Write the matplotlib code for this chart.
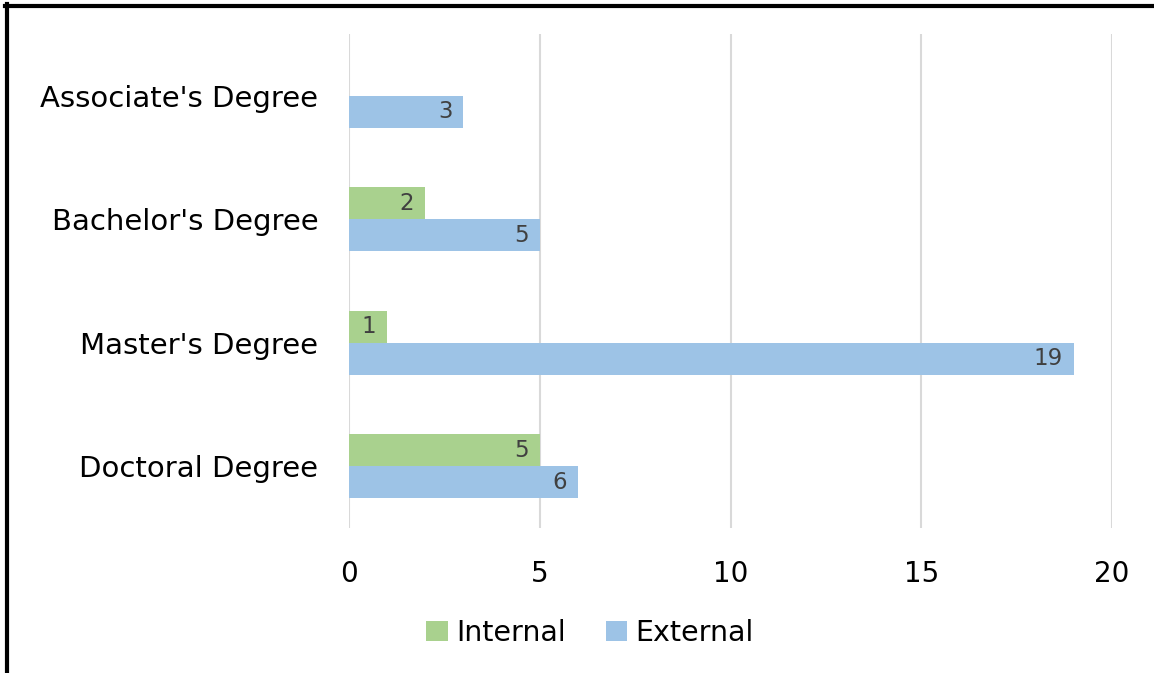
import numpy as np
from matplotlib import pyplot as plt
from matplotlib.lines import Line2D

# data
degrees = ["Associate's Degree", "Bachelor's Degree", "Master's Degree", "Doctoral Degree"]
internal = [0, 2, 1, 5]
external = [3, 5, 19, 6]
x_ticks = [0, 5, 10, 15, 20]

green = '#A9D18E'
blue = '#9DC3E6'
label_color = '#404040'

plt.rcParams['font.family'] = ['DejaVu Sans']

fig = plt.figure(figsize=(11.54, 6.73), dpi=100)
ax = fig.add_axes([349/1154, 145/673, (1112-349)/1154, (528-34)/673])

y = np.arange(len(degrees))
h = 0.26

bars_int = ax.barh(y - h/2, internal, h, color=green, label='Internal')
bars_ext = ax.barh(y + h/2, external, h, color=blue, label='External')

# value labels, inside end of each bar
for bars, vals in [(bars_int, internal), (bars_ext, external)]:
	for b, v in zip(bars, vals):
		if v == 0:
			continue
		ax.annotate(str(v), (v, b.get_y() + b.get_height()/2), xytext=(-8, 0),
			textcoords='offset points', ha='right', va='center',
			fontsize=16.5, color=label_color)

ax.set_ylim(len(degrees) - 0.5, -0.5)
ax.set_xlim(0, 20)
ax.set_yticks(y, degrees)
ax.set_xticks(x_ticks)
ax.tick_params(axis='y', length=0, labelsize=21, colors='black', pad=22)
ax.tick_params(axis='x', length=0, labelsize=20, colors='black', pad=23)
ax.grid(axis='x', color='#D9D9D9', linewidth=1.5)
ax.set_axisbelow(True)
for s in ax.spines.values():
	s.set_visible(False)

ax.legend(loc='center', bbox_to_anchor=(590/1154, 1 - 633/673),
	bbox_transform=fig.transFigure, ncol=2, frameon=False, fontsize=20.5,
	handlelength=0.75, handleheight=0.75, handletextpad=0.3, columnspacing=1.4)

# black border on top and left
fig.add_artist(Line2D([5/1154, 1], [1 - 5.5/673, 1 - 5.5/673], color='black', linewidth=3, transform=fig.transFigure))
fig.add_artist(Line2D([7/1154, 7/1154], [0, 1 - 4/673], color='black', linewidth=3, transform=fig.transFigure))

fig.savefig('out.png', dpi=100)
